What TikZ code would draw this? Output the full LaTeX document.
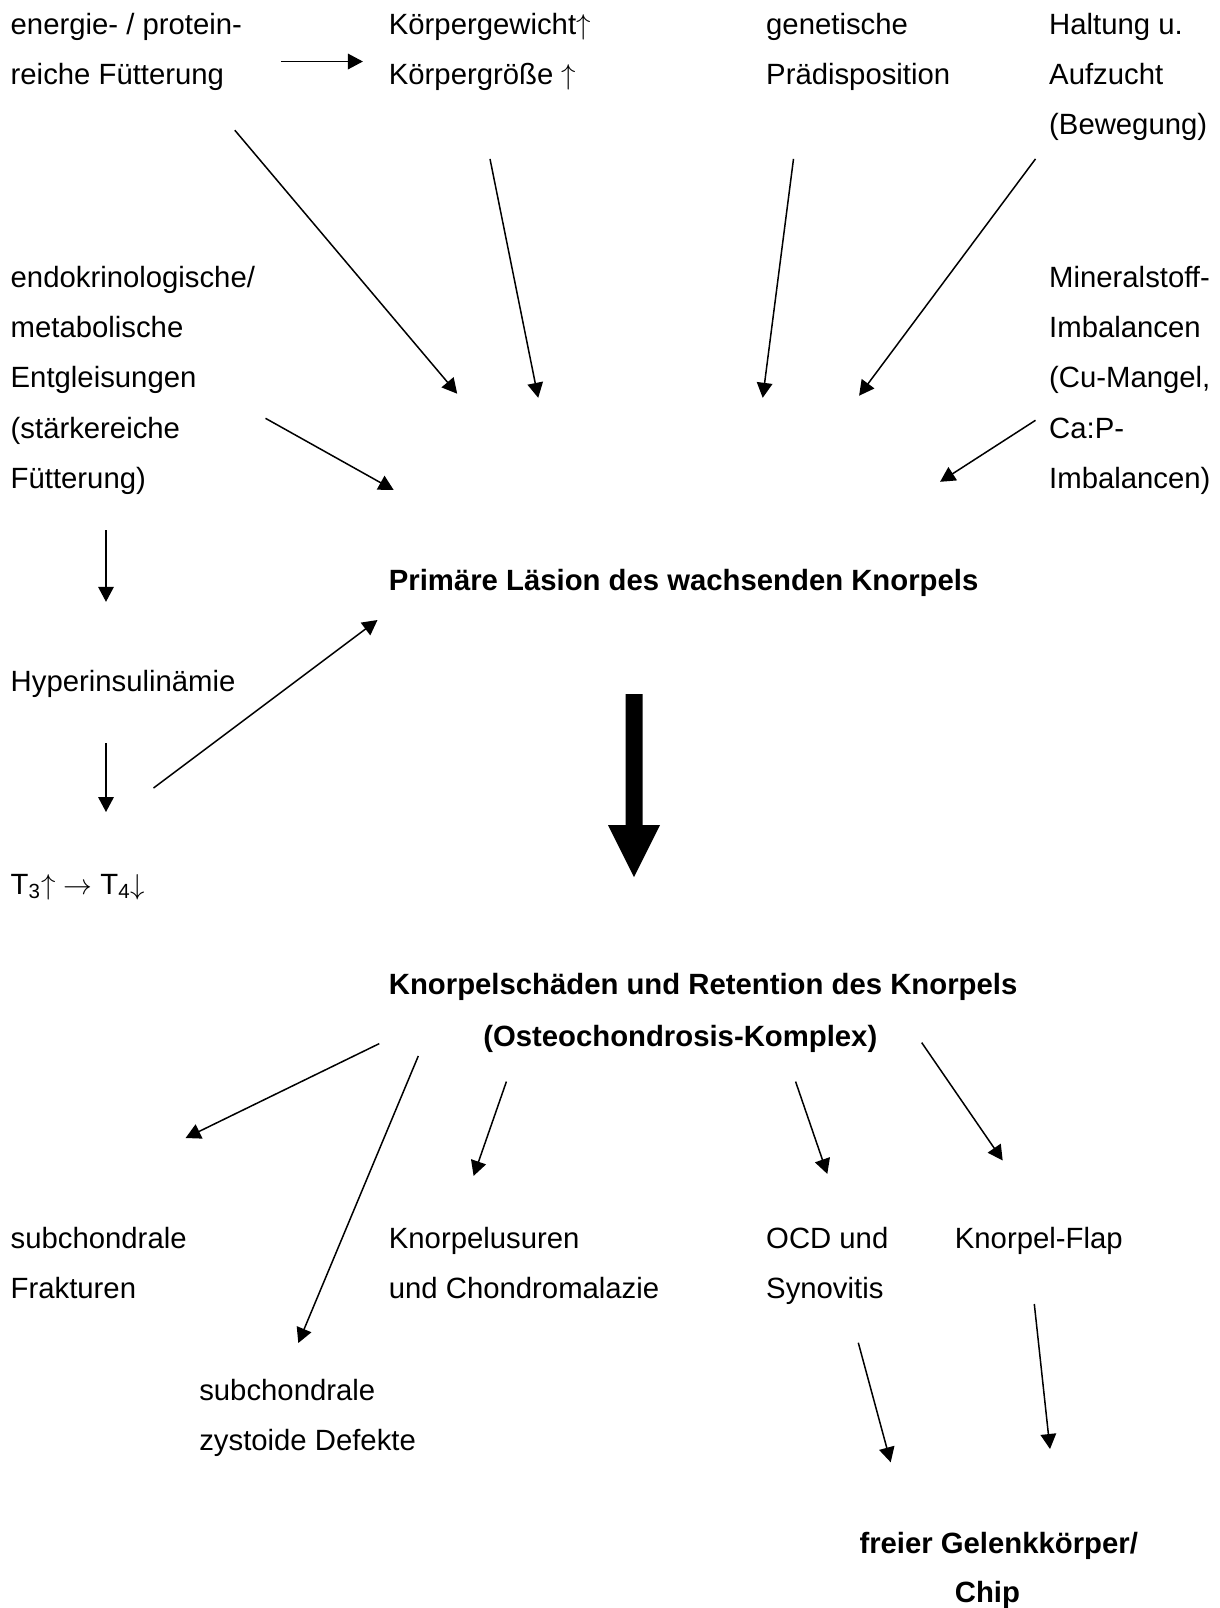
\documentclass[tikz,border=0pt]{standalone}
\usepackage{fontspec}
\setmainfont{Liberation Sans}
\newcommand{\upar}{\ensuremath{\uparrow}}
\newcommand{\dnar}{\ensuremath{\downarrow}}
\newcommand{\rtar}{\ensuremath{\rightarrow}}
\usetikzlibrary{arrows.meta}
\begin{document}
\begin{tikzpicture}[x=0.5pt,y=-0.5pt,
  lbl/.style={anchor=base west, inner sep=0pt, align=left, font=\fontsize{14.65}{25.15}\selectfont},
  bl/.style={lbl, font=\fontsize{14.65}{25.15}\selectfont\bfseries},
  arr/.style={-{Triangle[length=7.5pt,width=7.8pt]}, line width=0.75pt},
  fat/.style={fill=black, draw=none}]
\useasboundingbox (0,0) rectangle (1220,1608);
% texts (anchor = baseline of the last line)
\node[lbl] (feed) at (10.3,84.3) {energie- / protein-\\reiche Fütterung};
\node[lbl] (kg) at (388.5,84.3) {Körpergewicht\upar\\Körpergröße \upar};
\node[lbl] (gen) at (765.8,84.3) {genetische\\Prädisposition};
\node[lbl] (halt) at (1048.8,134.6) {Haltung u.\\Aufzucht\\(Bewegung)};
\node[lbl] (endo) at (10.3,488.5) {endokrinologische/\\metabolische\\Entgleisungen\\(stärkereiche\\Fütterung)};
\node[lbl] (mineral) at (1048.8,488.5) {Mineralstoff-\\Imbalancen\\(Cu-Mangel,\\Ca:P-\\Imbalancen)};
\node[bl] (prim) at (388.5,590.8) {Primäre Läsion des wachsenden Knorpels};
\node[lbl] (hyper) at (10.3,691.2) {Hyperinsulinämie};
\node[lbl] (thy) at (10.3,894) {T\textsubscript{3}\upar\ \rtar\ T\textsubscript{4}\dnar};
\node[bl] (kn) at (388.5,994.7) {Knorpelschäden und Retention des Knorpels};
\node[bl] (ost) at (482.9,1046) {(Osteochondrosis-Komplex)};
\node[lbl] (frak) at (10.3,1298.3) {subchondrale\\Frakturen};
\node[lbl] (usur) at (388.5,1298.3) {Knorpelusuren\\und Chondromalazie};
\node[lbl] (ocd) at (765.8,1298.3) {OCD und\\Synovitis};
\node[lbl] (flap) at (954.5,1248) {Knorpel-Flap};
\node[lbl] (zyst) at (198.9,1450.8) {subchondrale\\zystoide Defekte};
\node[bl] (frei) at (859.1,1553.5) {freier Gelenkkörper/};
\node[bl] (chip) at (954.5,1602.5) {Chip};
% arrow end points
\coordinate (a1s) at (280.9,61.5);   \coordinate (a1e) at (362.9,61.5);
\coordinate (a2s) at (234.8,130.2);  \coordinate (a2e) at (457.2,393.7);
\coordinate (a3s) at (490,158.9);    \coordinate (a3e) at (538.2,397.8);
\coordinate (a4s) at (793.5,158.9);  \coordinate (a4e) at (762.7,397.8);
\coordinate (a5s) at (1035.5,158.9); \coordinate (a5e) at (859.1,395.7);
\coordinate (a6s) at (265.5,418.3);  \coordinate (a6e) at (393.7,490);
\coordinate (a7s) at (1035.5,420.3); \coordinate (a7e) at (940.1,481.8);
\coordinate (a8s) at (106,530);      \coordinate (a8e) at (106,601.8);
\coordinate (a9s) at (106,743);      \coordinate (a9e) at (106,812);
\coordinate (a10s) at (153.5,788);   \coordinate (a10e) at (377.5,620);
\coordinate (a12s) at (379.3,1043.6); \coordinate (a12e) at (185.6,1138);
\coordinate (a13s) at (418.3,1056);  \coordinate (a13e) at (298.3,1343);
\coordinate (a14s) at (506.4,1081.6); \coordinate (a14e) at (473.6,1175.9);
\coordinate (a15s) at (795.6,1081.6); \coordinate (a15e) at (827.3,1173.9);
\coordinate (a16s) at (921.7,1042.6); \coordinate (a16e) at (1002.7,1160.5);
\coordinate (a17s) at (858.3,1342.7); \coordinate (a17e) at (890.7,1462.3);
\coordinate (a18s) at (1034.3,1304); \coordinate (a18e) at (1050,1449);
% arrows
\foreach \i in {1,2,3,4,5,6,7,8,9,10,12,13,14,15,16,17,18}
  \draw[arr] (a\i s) -- (a\i e);
% fat arrow
\fill[fat] (625.5,694) -- (642.5,694) -- (642.5,825) -- (660,825) -- (634,877)
  -- (608,825) -- (625.5,825) -- cycle;
\end{tikzpicture}
\end{document}
